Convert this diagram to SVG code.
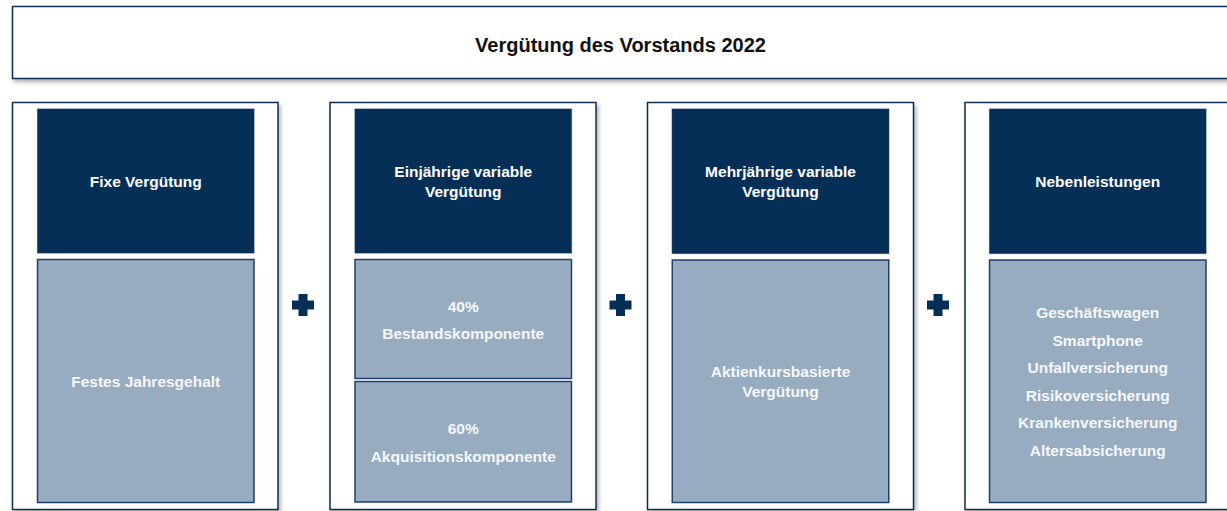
<svg xmlns="http://www.w3.org/2000/svg" width="1227" height="511" viewBox="0 0 1227 511">
<defs>
<filter id="sh" x="-5%" y="-5%" width="110%" height="115%">
<feDropShadow dx="2" dy="3" stdDeviation="2" flood-color="#000" flood-opacity="0.3"/>
</filter>
<style>
.outer{fill:#fff;stroke:#0f2d4f;stroke-width:1.5;filter:url(#sh)}
.head{fill:#052f57;stroke:#c9d3de;stroke-width:0.6}
.body{fill:#97acc0;stroke:#1d426b;stroke-width:1.5}
.t{font-family:"Liberation Sans",Arial,sans-serif;font-weight:bold;text-anchor:middle}
.title{font-size:20px;fill:#111}
.w{font-size:15.5px;fill:#fff}
.b{font-size:15.5px;fill:#f5f7fa}
.plus{fill:#062f57}
</style>
</defs>
<g id="title">
<rect class="outer" x="12.5" y="6.5" width="1217" height="72"/>
<text class="t title" x="620.5" y="52">Vergütung des Vorstands 2022</text>
</g>
<g id="col1">
<rect class="outer" x="12.5" y="102.5" width="265.5" height="407"/>
<rect class="head" x="37" y="108.5" width="217.5" height="145"/>
<text class="t w" x="145.75" y="186.5">Fixe Vergütung</text>
<rect class="body" x="37.5" y="259.5" width="216.5" height="243"/>
<text class="t b" x="145.75" y="386.5">Festes Jahresgehalt</text>
</g>
<g id="col2">
<rect class="outer" x="330" y="102.5" width="266" height="407"/>
<rect class="head" x="354.5" y="108.5" width="217.5" height="145"/>
<text class="t w" x="463.25" y="176.5">Einjährige variable</text>
<text class="t w" x="463.25" y="196.5">Vergütung</text>
<rect class="body" x="355" y="259.5" width="216.5" height="119"/>
<text class="t b" x="463.25" y="311.5">40%</text>
<text class="t b" x="463.25" y="339">Bestandskomponente</text>
<rect class="body" x="355" y="381.5" width="216.5" height="120.5"/>
<text class="t b" x="463.25" y="434">60%</text>
<text class="t b" x="463.25" y="461.5">Akquisitionskomponente</text>
</g>
<g id="col3">
<rect class="outer" x="647.5" y="102.5" width="266" height="407"/>
<rect class="head" x="671.75" y="108.5" width="217.5" height="145.5"/>
<text class="t w" x="780.5" y="177">Mehrjährige variable</text>
<text class="t w" x="780.5" y="197">Vergütung</text>
<rect class="body" x="672.25" y="260" width="216.5" height="242.5"/>
<text class="t b" x="780.5" y="377">Aktienkursbasierte</text>
<text class="t b" x="780.5" y="397">Vergütung</text>
</g>
<g id="col4">
<rect class="outer" x="965" y="102.5" width="266" height="407"/>
<rect class="head" x="989" y="108.5" width="217.5" height="145.5"/>
<text class="t w" x="1097.75" y="186.5">Nebenleistungen</text>
<rect class="body" x="989.5" y="260" width="216.5" height="242.5"/>
<text class="t b" x="1097.75" y="317.5">Geschäftswagen</text>
<text class="t b" x="1097.75" y="345.5">Smartphone</text>
<text class="t b" x="1097.75" y="373">Unfallversicherung</text>
<text class="t b" x="1097.75" y="400.5">Risikoversicherung</text>
<text class="t b" x="1097.75" y="428">Krankenversicherung</text>
<text class="t b" x="1097.75" y="456">Altersabsicherung</text>
</g>
<g id="connectors">
<path class="plus" d="M298.5 294h9v6.5h6.5v9h-6.5v6.5h-9v-6.5h-6.5v-9h6.5z"/>
<path class="plus" d="M616 294h9v6.5h6.5v9h-6.5v6.5h-9v-6.5h-6.5v-9h6.5z"/>
<path class="plus" d="M933.5 294h9v6.5h6.5v9h-6.5v6.5h-9v-6.5h-6.5v-9h6.5z"/>
</g>
</svg>
